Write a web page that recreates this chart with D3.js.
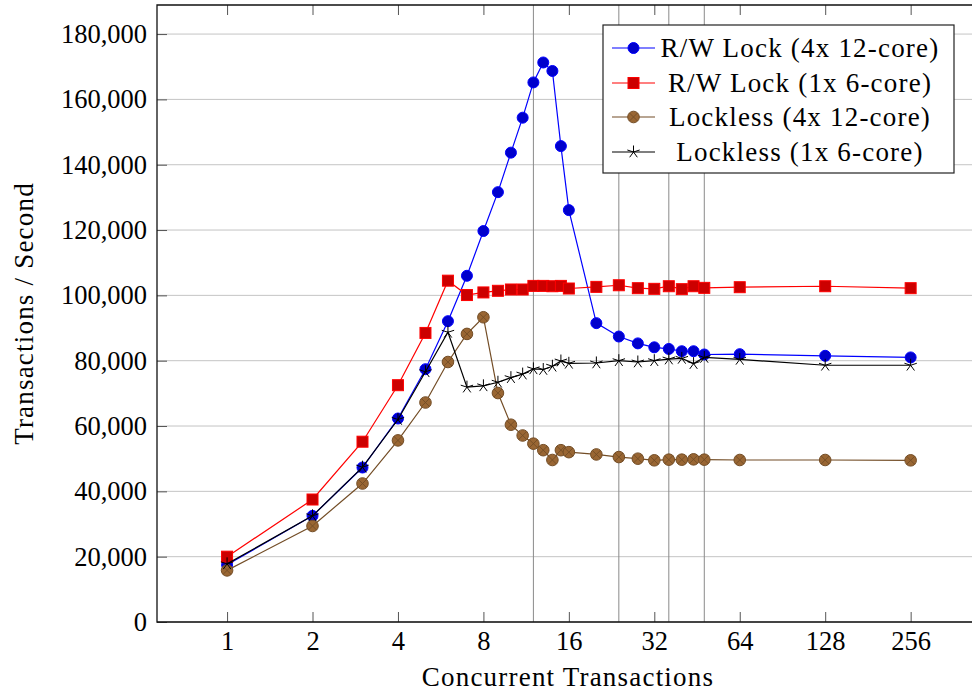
<!DOCTYPE html>
<html>
<head>
<meta charset="utf-8">
<script src="https://cdn.jsdelivr.net/npm/d3@7"></script>
<style>
  body { margin: 0; background: #fff; }
  svg text { font-family: "Liberation Serif", "DejaVu Serif", serif; fill: #000; }
</style>
</head>
<body>
<svg id="drawing_region"></svg>
<script>
// concurrent transactions (x) and throughput per series
const threads = [1, 2, 3, 4, 5, 6, 7, 8, 9, 10, 11, 12, 13, 14, 15, 16, 20, 24, 28, 32, 36, 40, 44, 48, 64, 128, 256];

const rwLock48 = [17500, 32500, 47300, 62300, 77400, 92100, 106000, 119700, 131600, 143700, 154400, 165200, 171300, 168700, 145700, 126100,
                  91500, 87400, 85300, 84100, 83600, 82900, 82900, 81900, 82000, 81500, 81000];
const rwLock6 = [20000, 37500, 55200, 72500, 88500, 104500, 100100, 100900, 101400, 101800, 101800, 102900, 102900, 102800, 102900, 102100,
                 102600, 103100, 102200, 102000, 102800, 101900, 102800, 102300, 102500, 102800, 102200];
const lockless48 = [15800, 29400, 42400, 55600, 67200, 79600, 88200, 93300, 70100, 60400, 57100, 54600, 52600, 49600, 52600, 52000,
                    51300, 50500, 50000, 49500, 49700, 49700, 49800, 49700, 49600, 49600, 49500];
const lockless6 = [17800, 32500, 47400, 62000, 76600, 88700, 71900, 72300, 73400, 74800, 75900, 77500, 77300, 78300, 79900, 79200,
                   79300, 80000, 79600, 80000, 80500, 80700, 79100, 81000, 80400, 78600, 78600];

const seriesNames = ["R/W Lock (4x 12-core)", "R/W Lock (1x 6-core)", "Lockless (4x 12-core)", "Lockless (1x 6-core)"];
const xTicks = [1, 2, 4, 8, 16, 32, 64, 128, 256];
const yTicks = [0, 20000, 40000, 60000, 80000, 100000, 120000, 140000, 160000, 180000];
const extraX = [12, 24, 36, 48];

const series = [
    { name: seriesNames[0], values: rwLock48,   line: "#0000ff", fill: "#0000cc", mark: "circle" },
    { name: seriesNames[1], values: rwLock6,    line: "#ff0000", fill: "#cc0000", mark: "square" },
    { name: seriesNames[2], values: lockless48, line: "#734d26", fill: "#996633", mark: "otimes" },
    { name: seriesNames[3], values: lockless6,  line: "#000000", fill: "none",    mark: "star" }
];

const config = {
    width: 972, height: 692,
    margin: { left: 157, right: 979, top: 5, bottom: 622 }
};
const m = config.margin;

const svg = d3.select('#drawing_region')
    .attr('width', config.width)
    .attr('height', config.height);

const xscale = d3.scaleLog().base(2)
    .domain([Math.pow(2, -0.82), Math.pow(2, 8.8)])
    .range([m.left, m.right]);

const yscale = d3.scaleLinear()
    .domain([0, 188900])
    .range([m.bottom, m.top]);

// horizontal grid
svg.append('g').selectAll('line').data(yTicks).enter()
    .append('line')
    .attr('x1', m.left).attr('x2', m.right)
    .attr('y1', d => yscale(d)).attr('y2', d => yscale(d))
    .attr('stroke', '#c4c4c4').attr('stroke-width', 1);

// vertical lines at 12/24/36/48
svg.append('g').selectAll('line').data(extraX).enter()
    .append('line')
    .attr('x1', d => xscale(d)).attr('x2', d => xscale(d))
    .attr('y1', m.top).attr('y2', m.bottom)
    .attr('stroke', '#8a8a8a').attr('stroke-width', 1);

// axes (ticks point inward)
const xaxis = d3.axisBottom(xscale).tickValues(xTicks).tickFormat(d3.format('d'))
    .tickSizeInner(-10).tickSizeOuter(0).tickPadding(9);
const xaxisTop = d3.axisTop(xscale).tickValues(xTicks).tickFormat('')
    .tickSizeInner(-10).tickSizeOuter(0);
const yaxis = d3.axisLeft(yscale).tickValues(yTicks).tickFormat(d3.format(','))
    .tickSizeInner(-10).tickSizeOuter(0).tickPadding(10);

const xg = svg.append('g').attr('transform', `translate(0, ${m.bottom})`).call(xaxis);
const xtg = svg.append('g').attr('transform', `translate(0, ${m.top})`).call(xaxisTop);
const yg = svg.append('g').attr('transform', `translate(${m.left}, 0)`).call(yaxis);

[xg, xtg, yg].forEach(g => {
    g.select('.domain').remove();
    g.selectAll('.tick line').attr('stroke', '#555');
    g.selectAll('text').attr('font-size', 26.5).attr('font-family', '"Liberation Serif", serif');
});

// frame
svg.append('path')
    .attr('d', `M${m.right},${m.top}H${m.left}V${m.bottom}H${m.right}`)
    .attr('fill', 'none').attr('stroke', '#111').attr('stroke-width', 1.3);

// axis titles
svg.append('text')
    .attr('x', (m.left + m.right) / 2).attr('y', 686)
    .attr('text-anchor', 'middle').attr('font-size', 27).attr('letter-spacing', 1.2)
    .text('Concurrent Transactions');

svg.append('text')
    .attr('transform', `translate(33, ${(m.top + m.bottom) / 2}) rotate(-90)`)
    .attr('text-anchor', 'middle').attr('font-size', 27).attr('letter-spacing', 1.2)
    .text('Transactions / Second');

// marker drawing
function drawMark(g, s, x, y) {
    if (s.mark === 'circle') {
        g.append('circle').attr('cx', x).attr('cy', y).attr('r', 5.5)
            .attr('fill', s.fill).attr('stroke', s.line).attr('stroke-width', 1);
    } else if (s.mark === 'square') {
        g.append('rect').attr('x', x - 5.5).attr('y', y - 5.5).attr('width', 11).attr('height', 11)
            .attr('fill', s.fill).attr('stroke', s.line).attr('stroke-width', 1);
    } else if (s.mark === 'otimes') {
        g.append('circle').attr('cx', x).attr('cy', y).attr('r', 5.8)
            .attr('fill', s.fill).attr('stroke', s.line).attr('stroke-width', 1);
        const k = 5.8 * Math.SQRT1_2;
        g.append('path')
            .attr('d', `M${x - k},${y - k}L${x + k},${y + k}M${x - k},${y + k}L${x + k},${y - k}`)
            .attr('stroke', s.line).attr('stroke-width', 0.9);
    } else {
        let d = '';
        for (let i = 0; i < 5; i++) {
            const a = -Math.PI / 2 + i * 2 * Math.PI / 5;
            d += `M${x},${y}L${x + 6.5 * Math.cos(a)},${y + 6.5 * Math.sin(a)}`;
        }
        g.append('path').attr('d', d).attr('stroke', '#000').attr('stroke-width', 1);
    }
}

const line = d3.line().x(d => xscale(d[0])).y(d => yscale(d[1]));

series.forEach(s => {
    const pts = threads.map((t, i) => [t, s.values[i]]);
    const g = svg.append('g');
    g.append('path').datum(pts)
        .attr('d', line)
        .attr('fill', 'none').attr('stroke', s.line).attr('stroke-width', 1.2);
    pts.forEach(p => drawMark(g, s, xscale(p[0]), yscale(p[1])));
});

// legend
const lg = svg.append('g');
lg.append('rect').attr('x', 603).attr('y', 25).attr('width', 351).attr('height', 148)
    .attr('fill', '#fff').attr('stroke', '#222').attr('stroke-width', 1.2);
const rowY = [48, 83, 117, 152];
series.forEach((s, i) => {
    lg.append('line').attr('x1', 612).attr('x2', 655)
        .attr('y1', rowY[i]).attr('y2', rowY[i])
        .attr('stroke', s.line).attr('stroke-width', 1.2);
    drawMark(lg, s, 633.5, rowY[i]);
    lg.append('text').attr('x', 800).attr('y', rowY[i]).attr('dy', '0.35em')
        .attr('text-anchor', 'middle').attr('font-size', 27).attr('letter-spacing', 1.2)
        .text(s.name);
});
</script>
</body>
</html>
